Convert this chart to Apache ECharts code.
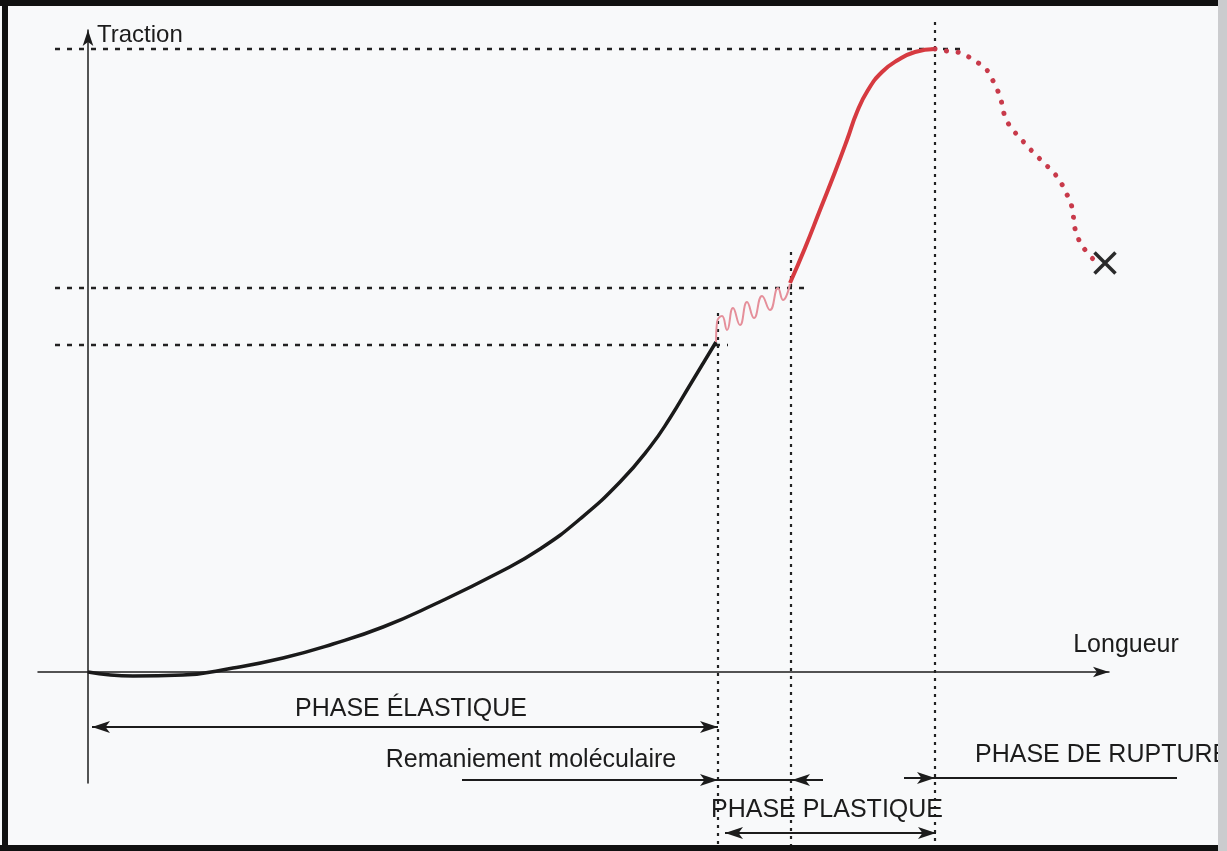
<!DOCTYPE html>
<html>
<head>
<meta charset="utf-8">
<title>Traction - Longueur</title>
<script src="https://cdn.jsdelivr.net/npm/echarts@6/dist/echarts.min.js"></script>
<style>
  html, body { margin: 0; padding: 0; background: #f8f9fa; }
  #chart { width: 1227px; height: 851px; }
</style>
</head>
<body>
<div id="chart"></div>
<script>
// phase élastique (courbe noire)
const elasticCurve = [[0, 0], [4.5, -0.4], [9.5, -0.3], [14.5, 0.4], [19.5, 1.4], [24.5, 2.8], [29.5, 4.5],
  [34.5, 6.7], [41.2, 10.0], [45.2, 12.3], [49.2, 15.3], [53.2, 19.0], [56.2, 22.5], [58.2, 25.4],
  [60.2, 28.7], [62.8, 33.0]];
// remaniement moléculaire (ondulation rose)
const remaniementCurve = [[62.8, 33.0], [62.9, 35.0], [63.4, 35.6], [63.9, 34.2], [64.5, 36.4], [65.2, 34.7],
  [65.9, 37.0], [66.6, 35.4], [67.4, 37.6], [68.2, 36.2], [69.0, 38.4], [69.5, 37.2], [70.2, 38.8]];
// phase plastique (rouge plein)
const plasticCurve = [[70.2, 38.9], [71.7, 42.4], [73.2, 46.2], [74.7, 50.0], [75.9, 53.2], [76.9, 56.0],
  [78.0, 58.2], [79.4, 60.0], [81.0, 61.2], [82.7, 62.0], [84.7, 62.3]];
// phase de rupture (pointillés rouges)
const ruptureCurve = [[84.7, 62.3], [85.9, 62.1], [86.9, 62.0], [87.9, 61.6], [88.9, 61.0], [89.8, 60.3],
  [90.4, 59.3], [90.9, 58.3], [91.3, 57.2], [91.5, 56.2], [91.9, 55.1], [92.5, 54.2], [93.3, 53.3],
  [94.1, 52.4], [94.9, 51.6], [95.7, 50.8], [96.5, 50.0], [97.2, 49.1], [97.7, 48.1], [98.2, 47.1],
  [98.5, 45.9], [98.6, 44.9], [98.9, 43.7], [99.5, 42.5], [100.5, 41.3]];
const rupturePoint = [[101.7, 40.9]];

// niveaux et limites (lignes pointillées)
const guideLevels = [62.3, 38.4, 32.7];
const guideLevelEnds = [87.7, 72.0, 64.0];
const guideVerticals = [63.0, 70.3, 84.7];
const guideVerticalTops = [35.9, 42.0, 65.0];
const guideBottom = -17.3;
const guideStart = -3.3;

// flèches des phases
const doubleArrows = [[[0.4, -5.5], [63.0, -5.5]], [[63.7, -16.1], [84.8, -16.1]]];
const singleArrows = [[[37.4, -10.8], [63.0, -10.8]], [[73.5, -10.8], [70.4, -10.8]], [[81.6, -10.6], [84.7, -10.6]]];
const plainSegments = [[[63.0, -10.8], [70.4, -10.8]], [[84.7, -10.6], [108.9, -10.6]]];

// textes
const labelTexts = ['Traction', 'Longueur', 'PHASE ÉLASTIQUE', 'Remaniement moléculaire', 'PHASE DE RUPTURE', 'PHASE PLASTIQUE'];
const labelCoords = [[0.9, 63.7], [103.8, 2.7], [32.3, -3.7], [44.3, -8.8], [88.7, -8.3], [73.9, -13.8]];
const labelAnchors = ['right', 'inside', 'inside', 'inside', 'right', 'inside'];

const ink = '#1c1c1c';
const font = "'Liberation Sans', Arial, sans-serif";

let myChart = echarts.init(document.getElementById('chart'));

const guideSeries = [];
guideLevels.forEach((y, i) => {
  guideSeries.push({
    type: 'line', silent: true, clip: false, showSymbol: false, symbol: 'none', z: 1,
    lineStyle: { color: '#222', width: 2.5, type: [5, 7] },
    data: [[guideStart, y], [guideLevelEnds[i], y]]
  });
});
guideVerticals.forEach((x, i) => {
  guideSeries.push({
    type: 'line', silent: true, clip: false, showSymbol: false, symbol: 'none', z: 1,
    lineStyle: { color: '#222', width: 2.2, type: [3, 5] },
    data: [[x, guideVerticalTops[i]], [x, guideBottom]]
  });
});

myChart.setOption({
  animation: false,
  backgroundColor: '#f8f9fa',
  grid: { left: 38, right: 118, top: 30, bottom: 68 },
  xAxis: {
    type: 'value', min: -5, max: 102.1,
    axisLine: { onZero: true, symbol: ['none', 'arrow'], symbolSize: [8, 16], lineStyle: { color: ink, width: 1.5 } },
    axisTick: { show: false }, axisLabel: { show: false }, splitLine: { show: false }
  },
  yAxis: {
    type: 'value', min: -11.1, max: 64.2,
    axisLine: { onZero: true, symbol: ['none', 'arrow'], symbolSize: [8, 16], lineStyle: { color: ink, width: 1.5 } },
    axisTick: { show: false }, axisLabel: { show: false }, splitLine: { show: false }
  },
  graphic: [
    { type: 'rect', shape: { x: 2, y: 0, width: 6, height: 851 }, style: { fill: '#111' }, z: 100 },
    { type: 'rect', shape: { x: 0, y: 0, width: 1227, height: 6 }, style: { fill: '#111' }, z: 100 },
    { type: 'rect', shape: { x: 0, y: 845, width: 1227, height: 6 }, style: { fill: '#111' }, z: 100 },
    { type: 'rect', shape: { x: 1218, y: 0, width: 9, height: 851 }, style: { fill: '#cbccce' }, z: 100 }
  ],
  series: [
    ...guideSeries,
    {
      name: 'élastique', type: 'line', smooth: 0.5, showSymbol: false, symbol: 'none', z: 5,
      lineStyle: { color: '#1a1a1a', width: 3.5 },
      data: elasticCurve
    },
    {
      name: 'remaniement', type: 'line', smooth: 0.5, showSymbol: false, symbol: 'none', z: 5,
      lineStyle: { color: '#e58f9a', width: 2 },
      data: remaniementCurve
    },
    {
      name: 'plastique', type: 'line', smooth: 0.5, showSymbol: false, symbol: 'none', z: 5,
      lineStyle: { color: '#d63a40', width: 4 },
      data: plasticCurve
    },
    {
      name: 'rupture', type: 'line', smooth: 0.5, showSymbol: false, symbol: 'none', z: 5,
      lineStyle: { color: '#c83a4a', width: 5, type: [0.1, 11.5], cap: 'round' },
      data: ruptureCurve
    },
    {
      name: 'point de rupture', type: 'scatter', z: 6,
      symbol: 'path://M0,0L10,10M10,0L0,10', symbolSize: 21,
      itemStyle: { color: 'transparent', borderColor: '#2a2a2a', borderWidth: 3.5, opacity: 1 },
      data: rupturePoint
    },
    {
      type: 'lines', coordinateSystem: 'cartesian2d', clip: false, silent: true, z: 4,
      symbol: ['arrow', 'arrow'], symbolSize: [[9, 18], [9, 18]],
      lineStyle: { color: ink, width: 2, opacity: 1 },
      data: doubleArrows.map(c => ({ coords: c }))
    },
    {
      type: 'lines', coordinateSystem: 'cartesian2d', clip: false, silent: true, z: 4,
      symbol: ['none', 'arrow'], symbolSize: [[9, 18], [9, 18]],
      lineStyle: { color: ink, width: 2, opacity: 1 },
      data: singleArrows.map(c => ({ coords: c }))
    },
    {
      type: 'lines', coordinateSystem: 'cartesian2d', clip: false, silent: true, z: 4,
      symbol: 'none',
      lineStyle: { color: ink, width: 2, opacity: 1 },
      data: plainSegments.map(c => ({ coords: c }))
    },
    {
      type: 'scatter', clip: false, silent: true, symbolSize: 0, z: 7,
      itemStyle: { opacity: 1 },
      data: labelTexts.map((t, i) => ({
        name: t, value: labelCoords[i],
        label: {
          show: true, formatter: t, position: labelAnchors[i], distance: 0, opacity: 1,
          fontFamily: font, fontSize: i === 0 ? 24 : 25, color: ink
        }
      }))
    }
  ]
});
</script>
</body>
</html>
